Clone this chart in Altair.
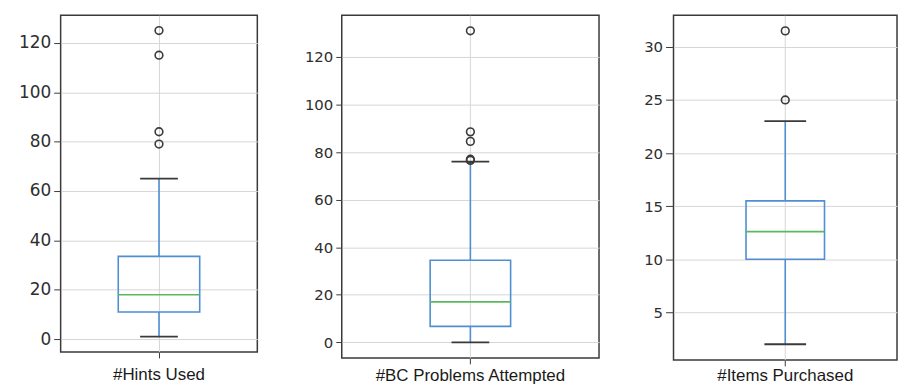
import altair as alt
import pandas as pd

# ---- data ----
names = ["#Hints Used", "#BC Problems Attempted", "#Items Purchased"]
lower_whisker = [1, 0, 2]
q1 = [11, 6.7, 10]
median = [18, 17, 12.6]
q3 = [33.5, 34.5, 15.5]
upper_whisker = [65, 76, 23]
outliers = [[79, 84, 115, 125], [76.5, 77, 84.5, 88.5, 131], [25, 31.5]]
tick_values = [[0, 20, 40, 60, 80, 100, 120],
               [0, 20, 40, 60, 80, 100, 120],
               [5, 10, 15, 20, 25, 30]]

# ---- styling ----
BLUE = "#4f8fd2"
GREEN = "#5cb85c"
DARK = "#3a3a3a"
GRID = "#d6d6d6"

panel_w = [198, 259, 225]
panel_h = [339, 345, 347]
y_extent = [52, 63, 53]
y_label_size = [17, 15, 15]
y_tick_size = [7, 6, 8]
x_label_pad = [9, 4, 2]
box_w = [82, 81, 79]
cap_w = [38, 38, 42]


def panel(i):
    stats = pd.DataFrame({
        "name": [names[i]], "lo": [lower_whisker[i]], "q1": [q1[i]],
        "med": [median[i]], "q3": [q3[i]], "hi": [upper_whisker[i]],
    })
    outs = pd.DataFrame({"name": [names[i]] * len(outliers[i]), "v": outliers[i]})
    dmin = min([lower_whisker[i]] + outliers[i])
    dmax = max([upper_whisker[i]] + outliers[i])
    m = (dmax - dmin) * 0.05
    sc = alt.Scale(domain=[dmin - m, dmax + m], nice=False, zero=False)
    yax = alt.Axis(values=tick_values[i], title=None, grid=True, gridColor=GRID,
                   domain=False, tickColor=DARK, tickSize=y_tick_size[i],
                   labelColor="#2e2e2e", labelFontSize=y_label_size[i],
                   labelFont="DejaVu Sans", labelPadding=3,
                   minExtent=y_extent[i], maxExtent=y_extent[i])
    X = alt.X("name:N", scale=alt.Scale(paddingInner=0, paddingOuter=0),
              axis=alt.Axis(title=None, labelAngle=0, labelFontSize=17,
                            labelFont="Liberation Sans", labelColor="#1a1a1a",
                            labelLimit=0,
                            labelPadding=x_label_pad[i], tickSize=6,
                            tickColor=DARK, domain=False, grid=True,
                            gridColor=GRID, bandPosition=0.5))

    def Y(f):
        return alt.Y(f, type="quantitative", scale=sc, axis=yax)

    base = alt.Chart(stats).encode(x=X)
    w_lo = base.mark_rule(color=BLUE, strokeWidth=1.6).encode(y=Y("lo"), y2="q1")
    w_hi = base.mark_rule(color=BLUE, strokeWidth=1.6).encode(y=Y("q3"), y2="hi")
    box = base.mark_bar(size=box_w[i], fillOpacity=0, stroke=BLUE,
                        strokeWidth=1.6).encode(y=Y("q1"), y2="q3")
    med = base.mark_tick(orient="horizontal", size=box_w[i], thickness=1.6,
                         color=GREEN, opacity=1).encode(y=Y("med"))
    cap_lo = base.mark_tick(orient="horizontal", size=cap_w[i], thickness=1.8,
                            color=DARK, opacity=1).encode(y=Y("lo"))
    cap_hi = base.mark_tick(orient="horizontal", size=cap_w[i], thickness=1.8,
                            color=DARK, opacity=1).encode(y=Y("hi"))
    pts = alt.Chart(outs).mark_point(shape="circle", filled=False, size=60,
                                     strokeWidth=1.6, color=DARK,
                                     opacity=1).encode(x=X, y=Y("v"))
    return alt.layer(w_lo, w_hi, box, med, cap_lo, cap_hi, pts).properties(
        width=panel_w[i], height=panel_h[i])


chart = alt.hconcat(panel(0), panel(1), panel(2), spacing=20).properties(
    padding={"left": 0, "top": 5, "right": 0, "bottom": 0},
    background="white"
).configure_view(stroke=DARK, strokeWidth=1.5)

chart.save("out.html", embed_options={"renderer": "svg", "actions": False})
